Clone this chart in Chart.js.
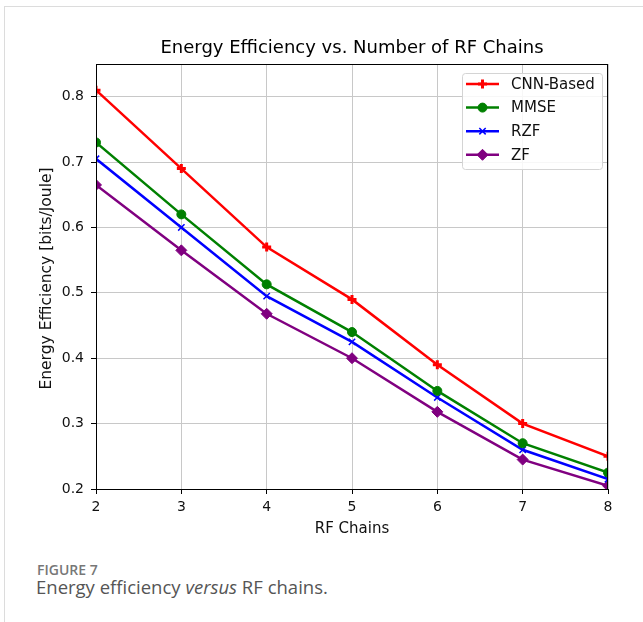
<!DOCTYPE html>
<html>
<head>
<meta charset="utf-8">
<script src="https://cdn.jsdelivr.net/npm/chart.js@4/dist/chart.umd.min.js"></script>
<style>
  body { margin: 0; background: #fff; width: 643px; height: 622px; position: relative; overflow: hidden; }
  #frameTop { position: absolute; left: 4px; top: 6px; width: 639px; height: 0; border-top: 1px solid #dcdcdc; }
  #frameLeft { position: absolute; left: 4px; top: 6px; width: 0; height: 616px; border-left: 1px solid #dcdcdc; }
  #wrap { position: absolute; left: 0; top: 0; width: 643px; height: 545px; }
  .cap1 { position: absolute; left: 37px; top: 560px; font-family: "Open Sans", sans-serif; font-size: 14px; font-weight: 600; color: #777; }
  .cap2 { position: absolute; left: 36px; top: 574px; font-family: "Open Sans", sans-serif; font-size: 18.5px; color: #555; }
</style>
</head>
<body>
<div id="frameTop"></div>
<div id="frameLeft"></div>
<div id="wrap"><canvas id="chart"></canvas></div>
<div class="cap1">FIGURE 7</div>
<div class="cap2">Energy efficiency <i>versus</i> RF chains.</div>
<script>
// Werte
const rfChains = [2, 3, 4, 5, 6, 7, 8];
const cnnBased = [0.81, 0.69, 0.57, 0.49, 0.39, 0.30, 0.25];
const mmse = [0.73, 0.62, 0.513, 0.44, 0.35, 0.27, 0.225];
const rzf = [0.705, 0.60, 0.495, 0.425, 0.34, 0.26, 0.215];
const zf = [0.665, 0.565, 0.468, 0.40, 0.318, 0.245, 0.205];
const yTicks = [0.2, 0.3, 0.4, 0.5, 0.6, 0.7, 0.8];
const xTicks = [2, 3, 4, 5, 6, 7, 8];

const font = 'DejaVu Sans';

function makeSeries(label, values, color, style, radius, bw) {
    return {
        label: label,
        data: rfChains.map((x, i) => ({ x: x, y: values[i] })),
        borderColor: color,
        backgroundColor: color,
        borderWidth: 2.5,
        pointStyle: style,
        pointRadius: radius,
        pointHoverRadius: radius,
        pointBorderWidth: bw,
        tension: 0
    };
}

// Rahmen, Titel, Achsentitel und Legende im Plotbereich
const extras = {
    id: 'extras',
    afterDatasetsDraw(chart) {
        const ctx = chart.ctx;
        const a = chart.chartArea;
        ctx.save();
        ctx.strokeStyle = '#000';
        ctx.lineWidth = 1;
        ctx.strokeRect(a.left + 0.5, a.top + 0.5, a.right - a.left - 1, a.bottom - a.top);

        ctx.fillStyle = '#000';
        ctx.textAlign = 'center';
        ctx.textBaseline = 'middle';
        ctx.font = '18px "' + font + '"';
        ctx.fillText('Energy Efficiency vs. Number of RF Chains', (a.left + a.right) / 2, 48.5);
        ctx.font = '15px "' + font + '"';
        ctx.fillStyle = '#111';
        ctx.fillText('RF Chains', (a.left + a.right) / 2, 529);
        ctx.save();
        ctx.translate(47, (a.top + a.bottom) / 2 + 2);
        ctx.rotate(-Math.PI / 2);
        ctx.font = '15.5px "' + font + '"';
        ctx.fillText('Energy Efficiency [bits/Joule]', 0, 0);
        ctx.restore();

        // Legende
        const bx = a.right - 146, by = a.top + 9, bw = 140, bh = 96;
        ctx.beginPath();
        ctx.roundRect(bx + 0.5, by + 0.5, bw, bh, 3);
        ctx.fillStyle = 'rgba(255,255,255,0.85)';
        ctx.fill();
        ctx.strokeStyle = '#d4d4d4';
        ctx.stroke();
        chart.data.datasets.forEach((ds, i) => {
            const y = by + 11 + i * 23.6;
            ctx.strokeStyle = ds.borderColor;
            ctx.fillStyle = ds.borderColor;
            ctx.lineWidth = ds.borderWidth;
            ctx.beginPath();
            ctx.moveTo(bx + 4, y);
            ctx.lineTo(bx + 37, y);
            ctx.stroke();
            ctx.lineWidth = ds.pointBorderWidth;
            Chart.helpers.drawPoint(ctx, {
                pointStyle: ds.pointStyle, radius: ds.pointRadius,
                borderWidth: ds.pointBorderWidth, rotation: 0
            }, bx + 20.5, y);
            ctx.fillStyle = '#111';
            ctx.textAlign = 'left';
            ctx.font = '15px "' + font + '"';
            ctx.fillText(ds.label, bx + 49, y + 1);
        });
        ctx.restore();
    }
};

new Chart(document.getElementById('chart').getContext('2d'), {
    type: 'line',
    data: {
        datasets: [
            makeSeries('CNN-Based', cnnBased, '#ff0000', 'cross', 4.5, 3),
            makeSeries('MMSE', mmse, '#008000', 'circle', 4.5, 1),
            makeSeries('RZF', rzf, '#0000ff', 'crossRot', 4.5, 1.5),
            makeSeries('ZF', zf, '#800080', 'rectRot', 5.5, 1)
        ]
    },
    options: {
        responsive: true,
        maintainAspectRatio: false,
        animation: false,
        layout: { padding: { top: 64, left: 0, right: 35, bottom: 0 } },
        plugins: { legend: { display: false }, tooltip: { enabled: false }, title: { display: false } },
        scales: {
            x: {
                type: 'linear',
                min: 2,
                max: 8,
                afterFit: s => { s.height = 56; },
                afterBuildTicks: s => { s.ticks = xTicks.map(v => ({ value: v })); },
                grid: { color: '#c8c8c8', lineWidth: 1, tickColor: '#000', tickLength: 5 },
                border: { display: false },
                ticks: { color: '#111', padding: 5, font: { family: font, size: 14 }, maxRotation: 0 }
            },
            y: {
                min: 0.2,
                max: 0.85,
                afterFit: s => { s.width = 96; },
                afterBuildTicks: s => { s.ticks = yTicks.map(v => ({ value: v })); },
                grid: { color: '#c8c8c8', lineWidth: 1, tickColor: '#000', tickLength: 5 },
                border: { display: false },
                ticks: { color: '#111', padding: 7, font: { family: font, size: 14 }, callback: v => v.toFixed(1) }
            }
        }
    },
    plugins: [extras]
});
</script>
</body>
</html>
